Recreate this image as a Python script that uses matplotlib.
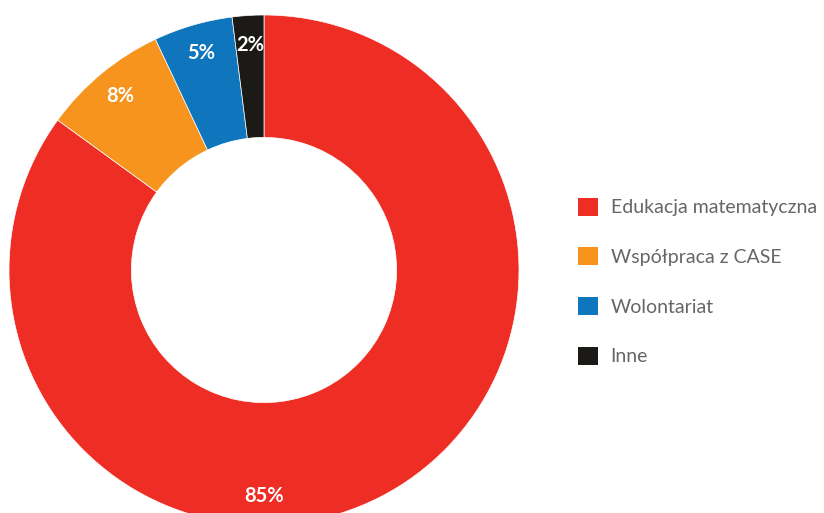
import matplotlib
matplotlib.use("Agg")
import matplotlib.pyplot as plt
import numpy as np

categories = ["Edukacja matematyczna", "Współpraca z CASE", "Wolontariat", "Inne"]
shares = [85, 8, 5, 2]
colors = ["#EE2E24", "#F7941E", "#0F75BC", "#1C1A17"]

plt.rcParams['font.family'] = ['Lato', 'DejaVu Sans']

W, H = 824, 513
fig = plt.figure(figsize=(W / 100, H / 100), dpi=100)

# pie centre at (264, 270) px, outer radius 255 px
cx, cy, r = 264, 270, 255
ax = fig.add_axes([(cx - r) / W, (H - cy - r) / H, 2 * r / W, 2 * r / H])

wedges, texts = ax.pie(shares, colors=colors, startangle=90, counterclock=False,
                       radius=1, wedgeprops=dict(width=0.48, edgecolor='white', linewidth=0.5))
ax.set_xlim(-1, 1)
ax.set_ylim(-1, 1)
ax.set_aspect('equal')
ax.axis('off')

for w, v in zip(wedges, shares):
    mid = (w.theta1 + w.theta2) / 2
    if v == max(shares):
        mid = -90  # big slice label sits at the bottom
    mid = np.deg2rad(mid)
    ax.text(0.885 * np.cos(mid), 0.885 * np.sin(mid), f"{v}%", ha='center', va='center',
            color='white', fontsize=14.5, fontweight='bold')

leg = fig.legend(wedges, categories, loc='upper left', bbox_to_anchor=(560 / W, 1 - 180 / H),
                 frameon=False, fontsize=14, labelcolor='#666666', handlelength=1.05,
                 handleheight=1.05, handletextpad=0.65, labelspacing=1.6)
for h in leg.legend_handles:
    h.set_edgecolor('none')

fig.savefig("out.png", dpi=100)
